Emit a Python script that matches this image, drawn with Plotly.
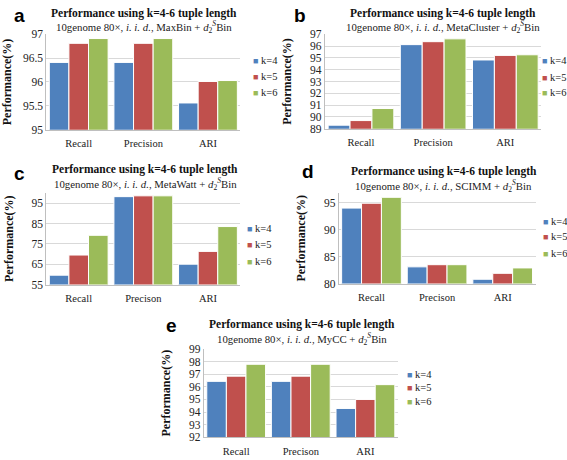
import plotly.graph_objects as go

W, H = 567, 460
series_names = ["k=4", "k=5", "k=6"]
colors = ["#4F81BD", "#C0504D", "#9BBB59"]

cats_a = ["Recall", "Precision", "ARI"]
a_k4 = [96.41, 96.41, 95.56]
a_k5 = [96.81, 96.81, 96.01]
a_k6 = [96.91, 96.91, 96.03]

cats_b = ["Recall", "Precision", "ARI"]
b_k4 = [89.30, 96.12, 94.82]
b_k5 = [89.69, 96.37, 95.21]
b_k6 = [90.71, 96.61, 95.26]

cats_c = ["Recall", "Precison", "ARI"]
c_k4 = [59.6, 98.2, 65.0]
c_k5 = [69.5, 98.6, 71.3]
c_k6 = [79.2, 98.6, 83.5]

cats_d = ["Recall", "Precison", "ARI"]
d_k4 = [94.0, 83.1, 80.8]
d_k5 = [94.9, 83.5, 81.9]
d_k6 = [96.0, 83.5, 82.9]

cats_e = ["Recall", "Precison", "ARI"]
e_k4 = [96.43, 96.43, 94.29]
e_k5 = [96.84, 96.84, 95.00]
e_k6 = [97.78, 97.78, 96.17]

subtitles = ["MaxBin", "MetaCluster", "MetaWatt", "SCIMM", "MyCC"]
letters = ["a", "b", "c", "d", "e"]

panels = [
    dict(cats=cats_a, vals=[a_k4, a_k5, a_k6], px=(38, 235), py=(29, 127), rng=[95, 97], dt=0.5,
         tx=137.5, title_y=8, sub_y=22, leg_x=246, leg_y=[56, 72, 89], letter=(3, 10)),
    dict(cats=cats_b, vals=[b_k4, b_k5, b_k6], px=(321, 541), py=(29, 126), rng=[89, 97], dt=1,
         tx=440.5, title_y=8, sub_y=22, leg_x=540, leg_y=[56, 73, 89], letter=(288, 10)),
    dict(cats=cats_c, vals=[c_k4, c_k5, c_k6], px=(38, 235), py=(192, 286), rng=[55, 100], dt=10,
         tx=138.3, title_y=168, sub_y=183, leg_x=240, leg_y=[228, 245, 262], letter=(3, 172)),
    dict(cats=cats_d, vals=[d_k4, d_k5, d_k6], px=(335, 535), py=(192, 285), rng=[80, 96.8], dt=5,
         tx=442, title_y=170, sub_y=185, leg_x=541, leg_y=[221, 237, 254], letter=(296, 170)),
    dict(cats=cats_e, vals=[e_k4, e_k5, e_k6], px=(198, 395), py=(352, 443), rng=[92, 99], dt=1,
         tx=297.5, title_y=327, sub_y=342, leg_x=402, leg_y=[378, 392, 406], letter=(157, 328)),
]

serif = "Liberation Serif, Times New Roman, DejaVu Serif, serif"
fig = go.Figure()
annotations = []
layout_extra = {}

for i, p in enumerate(panels):
    n = i + 1
    xa = "x" if n == 1 else f"x{n}"
    ya = "y" if n == 1 else f"y{n}"
    for s in range(3):
        fig.add_trace(go.Bar(
            x=p["cats"], y=p["vals"][s], name=series_names[s],
            marker=dict(color=colors[s], line=dict(color="white", width=1)),
            xaxis=xa, yaxis=ya, showlegend=False,
        ))
    x0, x1 = p["px"]
    y0, y1 = p["py"]
    xkey = "xaxis" if n == 1 else f"xaxis{n}"
    ykey = "yaxis" if n == 1 else f"yaxis{n}"
    layout_extra[xkey] = dict(
        domain=[x0 / W, x1 / W], anchor=ya, showline=True, linecolor="#BFBFBF",
        linewidth=1, ticks="", showgrid=False, ticklabelstandoff=4,
        tickfont=dict(family=serif, size=10.5, color="#222"),
    )
    layout_extra[ykey] = dict(
        domain=[1 - y1 / H, 1 - y0 / H], anchor=xa, range=p["rng"], dtick=p["dt"],
        tick0=p["rng"][0], showline=True, linecolor="#BFBFBF", linewidth=1,
        showgrid=True, gridcolor="#D9D9D9", gridwidth=1, ticks="",
        tickfont=dict(family=serif, size=11.5, color="#222"),
        title=dict(text="<b>Performance(%)</b>", font=dict(family=serif, size=12, color="#111")),
        zeroline=False,
    )
    # legend entries (one per series)
    for s in range(3):
        annotations.append(dict(
            text=f"<span style='color:{colors[s]};font-size:9px'>\u25A0</span> {series_names[s]}",
            x=p["leg_x"] / W, y=1 - p["leg_y"][s] / H, xref="paper", yref="paper",
            showarrow=False, xanchor="left", yanchor="middle",
            font=dict(family=serif, size=10.5, color="#222"),
        ))
    annotations.append(dict(
        text="<b>Performance using k=4-6 tuple length</b>", x=p["tx"] / W, y=1 - p["title_y"] / H,
        xref="paper", yref="paper", showarrow=False, xanchor="center", yanchor="middle",
        font=dict(family=serif, size=11.5, color="#111"),
    ))
    annotations.append(dict(
        text=f"10genome 80\u00d7, <i>i. i. d.</i>, {subtitles[i]} + <i>d</i><sub>2</sub><sup><i>S</i></sup>Bin",
        x=p["tx"] / W, y=1 - p["sub_y"] / H, xref="paper", yref="paper", showarrow=False,
        xanchor="center", yanchor="middle",
        font=dict(family=serif, size=10.8, color="#222"),
    ))
    lx0, ly0 = p["letter"]
    annotations.append(dict(
        text=f"<b>{letters[i]}</b>", x=lx0 / W, y=1 - ly0 / H, xref="paper", yref="paper",
        showarrow=False, xanchor="left", yanchor="middle",
        font=dict(family="Liberation Sans, Arial, sans-serif", size=19, color="#000"),
    ))

fig.update_layout(
    width=W, height=H, margin=dict(l=0, r=0, t=0, b=0),
    paper_bgcolor="white", plot_bgcolor="white",
    barmode="group", bargap=0.09, bargroupgap=0.0, showlegend=False,
    annotations=annotations, **layout_extra,
)

fig.write_html("out.html", config={"displayModeBar": False},
               post_script="document.body.style.margin='0';document.body.style.padding='0';")
